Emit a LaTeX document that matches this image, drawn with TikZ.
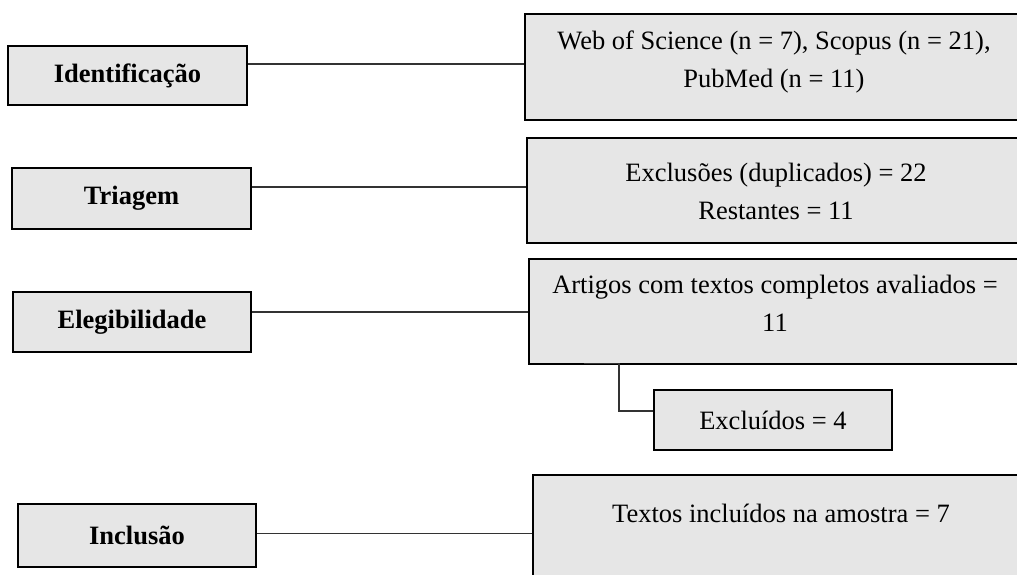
\documentclass[tikz,border=0pt]{standalone}
\usepackage{fontspec}
\setmainfont{Liberation Serif}
\definecolor{boxgray}{HTML}{E6E6E6}
\definecolor{linegray}{HTML}{333333}
\begin{document}
\begin{tikzpicture}[x=1pt,y=-1pt,
  box/.style={draw=black, line width=2pt, fill=boxgray, inner sep=0pt, rectangle},
  lbox/.style={box, minimum width=239pt, minimum height=60pt, font=\fontsize{26.5}{32}\selectfont\bfseries},
  rbox/.style={box},
  rtext/.style={align=center, inner sep=0pt, font=\fontsize{26.5}{38}\selectfont},
  conn/.style={draw=linegray, line width=1.2pt}]
\useasboundingbox (0,0) rectangle (1017,575);
\clip (0,0) rectangle (1017,575);
% left boxes
\node[lbox, minimum height=59pt] (ident) at (127.5,75.5) {Identificação};
\node[lbox, minimum height=61pt] (tri) at (131.5,198.5) {Triagem};
\node[lbox, minimum width=238pt] (eleg) at (132,322) {Elegibilidade};
\node[lbox, minimum width=238pt, minimum height=63pt] (incl) at (137,535) {Inclusão};
% right boxes
\node[rbox, minimum width=505pt, minimum height=106pt] (r1) at (777.5,67) {};
\node[rbox, minimum width=503pt, minimum height=105pt] (r2) at (778.5,190.5) {};
\node[rbox, minimum width=501pt, minimum height=105pt] (r3) at (779.5,311.5) {};
\node[rbox, minimum width=497pt, minimum height=125pt] (r4) at (781.5,537.5) {};
\node[rbox, minimum width=238pt, minimum height=60pt, font=\fontsize{26.5}{32}\selectfont] (excl) at (773,420) {Excluídos = 4};
% texts of right boxes
\node[rtext] (t1) at (774,62) {Web of Science (n = 7), Scopus (n = 21),\\PubMed (n = 11)};
\node[rtext] (t2) at (776,191) {Exclusões (duplicados) = 22\\Restantes = 11};
\node[rtext] (t3) at (775,303) {Artigos com textos completos avaliados =\\11};
\node[rtext] (t4) at (781,513) {Textos incluídos na amostra = 7};
% connectors
\draw[conn] ([yshift=11.5pt]ident.east) -- ([yshift=11.5pt]ident.east -| r1.west);
\draw[conn] ([yshift=11.5pt]tri.east) -- ([yshift=11.5pt]tri.east -| r2.west);
\draw[conn] ([yshift=10pt]eleg.east) -- ([yshift=10pt]eleg.east -| r3.west);
\draw[conn] ([yshift=1.5pt]incl.east) -- ([yshift=1.5pt]incl.east -| r4.west);
\draw[conn] ([xshift=56pt,yshift=1.8pt]r3.south west) -- ++(35,0) |- ([yshift=9pt]excl.west);
\end{tikzpicture}
\end{document}
